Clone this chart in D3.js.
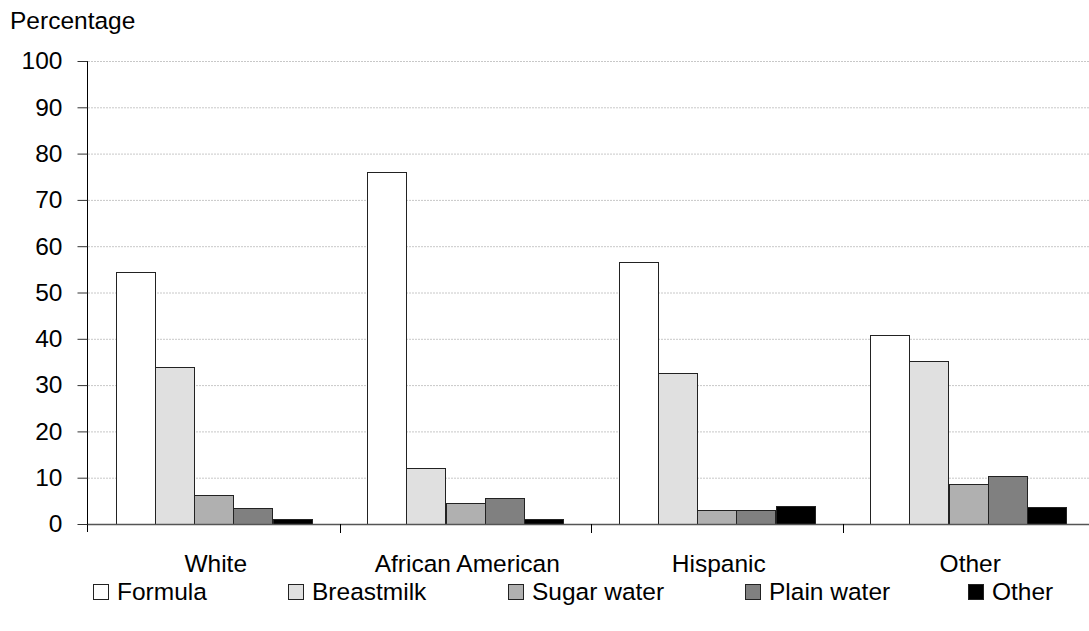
<!DOCTYPE html>
<html><head><meta charset="utf-8">
<script src="https://cdn.jsdelivr.net/npm/d3@7"></script>
<style>body{margin:0;background:#fff}svg{display:block}text{font-family:"Liberation Sans",Arial,sans-serif;fill:#000}</style>
</head><body>
<svg id="c" width="1089" height="631"></svg>
<script>
const categories = ["White", "African American", "Hispanic", "Other"];
const seriesNames = ["Formula", "Breastmilk", "Sugar water", "Plain water", "Other"];
const formula    = [54.4, 76.1, 56.5, 40.9];
const breastmilk = [33.9, 12.1, 32.7, 35.3];
const sugarWater = [6.2, 4.6, 3.1, 8.6];
const plainWater = [3.4, 5.7, 3.1, 10.4];
const otherFeed  = [1.1, 1.1, 3.9, 3.7];
const seriesValues = [formula, breastmilk, sugarWater, plainWater, otherFeed];
const colors = ["#ffffff", "#e0e0e0", "#b0b0b0", "#808080", "#000000"];
const yTicks = [0,10,20,30,40,50,60,70,80,90,100];

(function () {
const svg = d3.select("#c");
const FS = "24.5px";
const pLeft = 88, pRight = 1094, pTop = 61, pBottom = 524;
const x0 = d3.scaleBand().domain(categories).range([pLeft, pRight]).paddingInner(0).paddingOuter(0);
const groupW = 196;
const x1 = d3.scaleBand().domain(seriesNames).range([0, groupW]).padding(0);
const y = d3.scaleLinear().domain([0, 100]).range([pBottom, pTop]);

// gridlines
svg.append("g").selectAll("line").data(yTicks.filter(d => d > 0)).join("line")
  .attr("x1", pLeft).attr("x2", 1089)
  .attr("y1", d => y(d) + 0.5).attr("y2", d => y(d) + 0.5)
  .attr("stroke", "#c8c8c8").attr("stroke-width", 1).attr("stroke-dasharray", "2,1");

// bars
const g = svg.append("g");
categories.forEach((c, ci) => {
  const off = x0(c) + (x0.bandwidth() - groupW) / 2;
  seriesNames.forEach((s, si) => {
    const v = seriesValues[si][ci];
    g.append("rect")
      .attr("x", Math.round(off + x1(s)) + 0.5)
      .attr("y", Math.round(y(v)) + 0.5)
      .attr("width", Math.round(x1.bandwidth()))
      .attr("height", Math.round(y(0)) - Math.round(y(v)))
      .attr("fill", colors[si]).attr("stroke", "#222").attr("stroke-width", 1);
  });
});

// y axis
const yAxis = d3.axisLeft(y).tickValues(yTicks).tickSize(10).tickPadding(15);
const ya = svg.append("g").attr("transform", `translate(${pLeft - 0.5},0)`).call(yAxis);
ya.attr("font-size", null).attr("font-family", null);
ya.select(".domain").attr("stroke", "#000").attr("d", `M0,${pTop}V${pBottom + 8}`);
ya.selectAll(".tick line").attr("stroke", "#333");
ya.selectAll(".tick text").style("font-size", FS).attr("fill", "#000");

// x axis baseline
svg.append("line").attr("x1", pLeft).attr("x2", 1089).attr("y1", pBottom + 0.5).attr("y2", pBottom + 0.5)
  .attr("stroke", "#555").attr("stroke-width", 1.5);
// category ticks
svg.append("g").selectAll("line").data(categories.slice(1)).join("line")
  .attr("x1", d => Math.round(x0(d)) + 0.5).attr("x2", d => Math.round(x0(d)) + 0.5)
  .attr("y1", pBottom).attr("y2", pBottom + 9).attr("stroke", "#000");
// category labels
svg.append("g").selectAll("text").data(categories).join("text")
  .attr("x", d => x0(d) + x0.bandwidth() / 2 + 2)
  .attr("y", 572).attr("text-anchor", "middle").style("font-size", FS).text(d => d);

// y title
svg.append("text").attr("x", 10).attr("y", 29).style("font-size", FS).text("Percentage");

// legend
const legX = [93, 288, 508, 745, 968];
const leg = svg.append("g");
seriesNames.forEach((s, i) => {
  leg.append("rect").attr("x", legX[i] + 0.5).attr("y", 584.5).attr("width", 15).attr("height", 15)
    .attr("fill", colors[i]).attr("stroke", "#222");
  leg.append("text").attr("x", legX[i] + 24).attr("y", 600).style("font-size", FS).text(s);
});
})();
</script>
</body></html>
